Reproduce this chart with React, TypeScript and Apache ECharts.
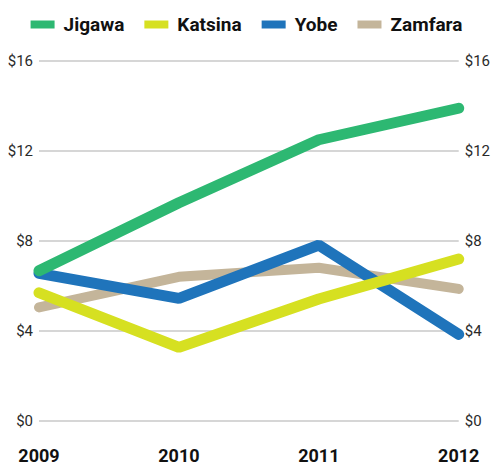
import React, { useEffect, useRef } from "react";
import * as echarts from "echarts";

const years = ["2009", "2010", "2011", "2012"];
const jigawa = [6.68, 9.7, 12.5, 13.9];
const katsina = [5.7, 3.27, 5.42, 7.2];
const yobe = [6.56, 5.45, 7.82, 3.85];
const zamfara = [5.05, 6.41, 6.81, 5.87];
const yTicks = [0, 4, 8, 12, 16];

const bold = "Roboto, 'Liberation Sans', sans-serif";

export default function App() {
  const ref = useRef<HTMLDivElement>(null);
  useEffect(() => {
    if (!ref.current) return;
    const chart = echarts.init(ref.current, null, { renderer: "svg" });
    const mk = (name: string, data: number[], color: string, width: number) => ({
      name,
      type: "line",
      data,
      symbol: "none",
      itemStyle: { color },
      lineStyle: { color, width, cap: "round" },
    });
    const yAxisBase = {
      type: "value",
      min: yTicks[0],
      max: yTicks[yTicks.length - 1],
      interval: 4,
      axisLine: { show: false },
      axisTick: { show: false },
      axisLabel: {
        formatter: (v: number) => "$" + v,
        fontSize: 15,
        color: "#2a2a2a",
        fontFamily: "Roboto, sans-serif",
        margin: 6,
      },
    };
    chart.setOption({
      animation: false,
      backgroundColor: "#fff",
      legend: {
        data: ["Jigawa", "Katsina", "Yobe", "Zamfara"],
        top: 10,
        left: "center",
        icon: "rect",
        itemWidth: 24,
        itemHeight: 8,
        itemGap: 20,
        textStyle: {
          fontSize: 19,
          fontWeight: "bold",
          fontFamily: bold,
          color: "#111",
          padding: [0, 0, 0, 4],
        },
      },
      grid: { left: 39, right: 33, top: 61, bottom: 45, containLabel: false },
      xAxis: {
        type: "category",
        data: years,
        boundaryGap: false,
        axisLine: { show: false },
        axisTick: { show: false },
        axisLabel: {
          fontSize: 18,
          fontWeight: "bold",
          fontFamily: bold,
          color: "#111",
          margin: 25,
        },
      },
      yAxis: [
        { ...yAxisBase, position: "left", splitLine: { lineStyle: { color: "#c8c8c8", width: 1.5 } } },
        { ...yAxisBase, position: "right", splitLine: { show: false } },
      ],
      series: [
        mk("Zamfara", zamfara, "#c4b59a", 10),
        mk("Yobe", yobe, "#1f74bb", 11),
        mk("Katsina", katsina, "#d6e021", 11),
        mk("Jigawa", jigawa, "#2db872", 11),
      ],
    });
    return () => chart.dispose();
  }, []);
  return <div ref={ref} style={{ width: 493, height: 466, position: "absolute", left: 0, top: 0 }} />;
}
